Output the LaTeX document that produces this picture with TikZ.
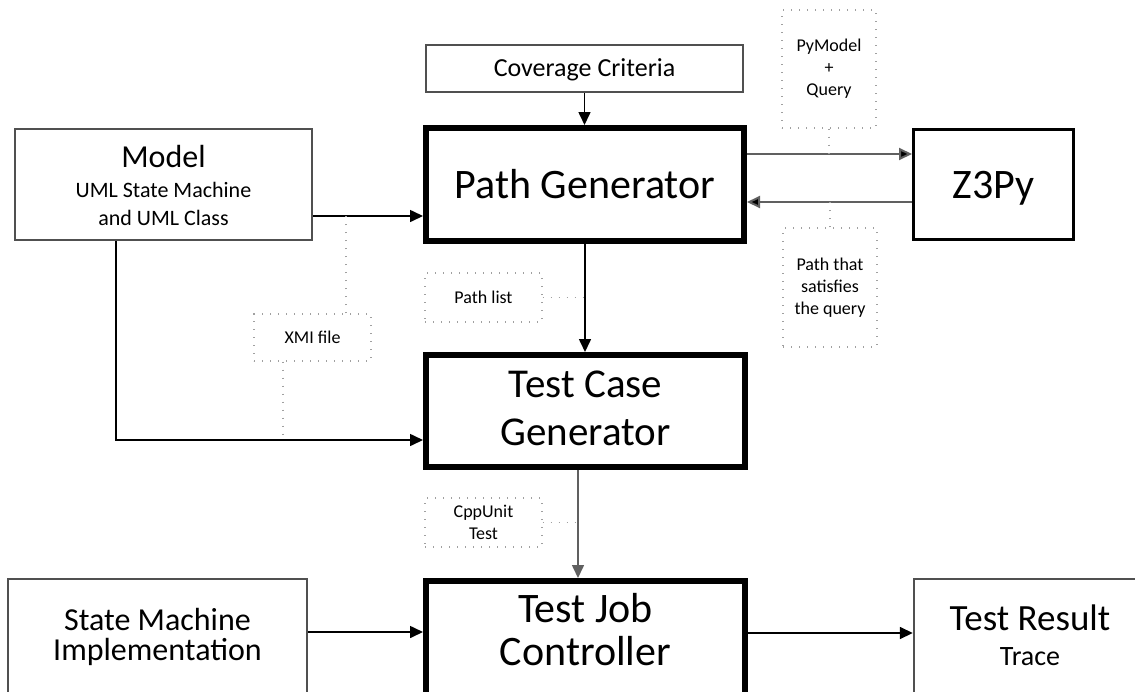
\documentclass[tikz,border=0pt]{standalone}
\usepackage{fontspec}
\setmainfont{Carlito}
\usetikzlibrary{arrows.meta}
\definecolor{boxgray}{HTML}{505050}
\definecolor{linegray}{HTML}{606060}
\definecolor{notegray}{HTML}{A0A0A0}
\begin{document}
\begin{tikzpicture}[x=1pt,y=-1pt,
  thinbox/.style={draw=boxgray, line width=2.4pt, inner sep=0pt, fill=white},
  thickbox/.style={draw=black, line width=6pt, inner sep=0pt, fill=white},
  midbox/.style={draw=black, line width=3pt, inner sep=0pt, fill=white},
  notebox/.style={draw=notegray, line width=1.4pt, dash pattern=on 1.4pt off 6.6pt, inner sep=0pt, align=center, font=\fontsize{18}{22}\selectfont},
  notelink/.style={draw=notegray, line width=1.4pt, dash pattern=on 1.4pt off 6.6pt},
  conn/.style={draw=black, line width=1.6pt, -{Triangle[length=13pt,width=12pt]}},
  greyconn/.style={draw=linegray, line width=2pt, -{Triangle[length=13pt,width=12pt,fill=black]}},
  txt/.style={anchor=base, inner sep=0pt}
]
\useasboundingbox (0,0) rectangle (1135,691);
\clip (0,0) rectangle (1135,691);

% main boxes
\node[thinbox, minimum width=317pt, minimum height=47pt, text height=16.7pt, text depth=0pt,
      font=\fontsize{26}{30}\selectfont] (cov) at (584.5,68.5) {Coverage Criteria};
\node[thickbox, minimum width=318pt, minimum height=113pt, text height=27pt, text depth=0pt,
      font=\fontsize{42}{48}\selectfont] (pg) at (585,184.5) {Path Generator};
\node[midbox, minimum width=160pt, minimum height=110pt, text height=27pt, text depth=0pt,
      font=\fontsize{42}{48}\selectfont] (z3) at (993.5,184.5) {Z3Py};
\node[thinbox, minimum width=297pt, minimum height=111pt] (model) at (163.5,184.5) {};
\node[thickbox, minimum width=319pt, minimum height=112pt] (tc) at (585.5,411) {};
\node[thickbox, minimum width=319pt, minimum height=200pt] (tj) at (585.5,681) {};
\node[thinbox, minimum width=299pt, minimum height=200pt] (sm) at (157.5,679) {};
\node[thinbox, minimum width=232pt, minimum height=200pt] (tr) at (1030,679) {};

% texts of multi-line boxes
\node[txt, font=\fontsize{32}{36}\selectfont] (modelt) at (163.5,167) {Model};
\node[txt, font=\fontsize{22}{26}\selectfont] (modelt2) at (163.5,197) {UML State Machine};
\node[txt, font=\fontsize{22}{26}\selectfont] (modelt3) at (163.5,225) {and UML Class};
\node[txt, font=\fontsize{41}{46}\selectfont] (tct1) at (585.5,397) {Test Case};
\node[txt, font=\fontsize{41}{46}\selectfont] (tct2) at (585.5,445) {Generator};
\node[txt, font=\fontsize{42}{46}\selectfont] (tjt1) at (585.5,622) {Test Job};
\node[txt, font=\fontsize{42}{46}\selectfont] (tjt2) at (585.5,665) {Controller};
\node[txt, font=\fontsize{32}{36}\selectfont] (smt1) at (157.5,630) {State Machine};
\node[txt, font=\fontsize{32}{36}\selectfont] (smt2) at (157.5,660) {Implementation};
\node[txt, font=\fontsize{37}{40}\selectfont] (trt1) at (1030,630) {Test Result};
\node[txt, font=\fontsize{28}{32}\selectfont] (trt2) at (1030,665) {Trace};

% note boxes
\node[notebox, minimum width=94pt, minimum height=118pt] (pym) at (829,69) {PyModel\\+\\Query};
\node[notebox, minimum width=94pt, minimum height=119pt] (pth) at (830,287.5) {Path that\\satisfies\\the query};
\node[notebox, minimum width=117pt, minimum height=49pt] (plist) at (483.5,297.5) {Path list};
\node[notebox, minimum width=117pt, minimum height=47pt] (xmi) at (312.5,337.5) {XMI file};
\node[notebox, minimum width=117pt, minimum height=49pt] (cpp) at (483.5,522.5) {CppUnit\\Test};

% helper coordinates
\coordinate (yq) at (830,154);
\coordinate (ya) at (830,202);
\coordinate (ym) at (346,216);
\coordinate (yx) at (283,440);
\coordinate (xl) at (116,440);
\coordinate (xc) at (578,600);
\coordinate (ysm) at (360,632);
\coordinate (ytr) at (830,633);

% connectors
\draw[conn] (cov.south) -- (cov.south |- pg.north);
\draw[greyconn] (pg.east |- yq) -- (z3.west |- yq);
\draw[greyconn] (z3.west |- ya) -- (pg.east |- ya);
\draw[conn] (model.east |- ym) -- (pg.west |- ym);
\draw[conn] (model.south -| xl) |- (tc.west |- xl);
\draw[conn] (pg.south) -- (pg.south |- tc.north);
\draw[conn, draw=linegray] (tc.south -| xc) -- (tj.north -| xc);
\draw[conn] (sm.east |- ysm) -- (tj.west |- ysm);
\draw[conn] (tj.east |- ytr) -- (tr.west |- ytr);

% dotted links
\draw[notelink] (pym.south) -- (pym.south |- yq);
\draw[notelink] (pth.north) -- (pth.north |- ya);
\draw[notelink] (xmi.north -| ym) -- (ym);
\draw[notelink] (xmi.south -| yx) -- (yx);
\draw[notelink] (plist.east) -- (plist.east -| pg.south);
\draw[notelink] (cpp.east) -- (cpp.east -| xc);
\end{tikzpicture}
\end{document}
